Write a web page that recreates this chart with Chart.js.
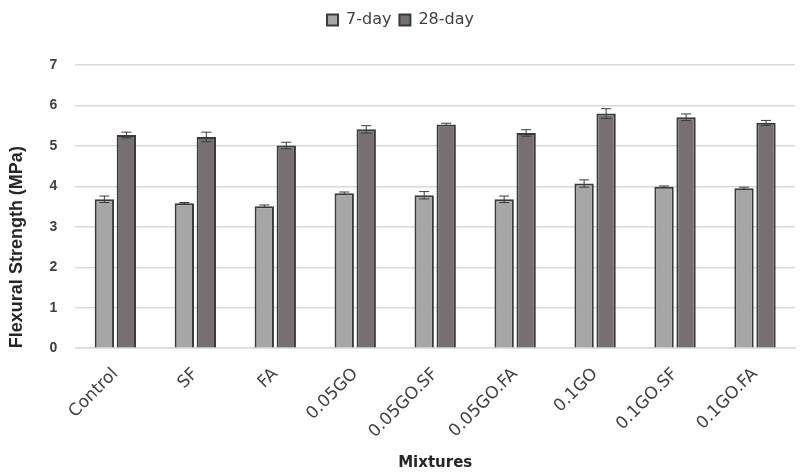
<!DOCTYPE html>
<html>
<head>
<meta charset="utf-8">
<script src="https://cdn.jsdelivr.net/npm/chart.js@4"></script>
<style>
  html, body { margin: 0; padding: 0; background: #fff; }
  #wrap { width: 802px; height: 472px; }
</style>
</head>
<body>
<div id="wrap"><canvas id="flex"></canvas></div>
<script>
// Datos
const mixtures = ['Control', 'SF', 'FA', '0.05GO', '0.05GO.SF', '0.05GO.FA', '0.1GO', '0.1GO.SF', '0.1GO.FA'];
const day7 = [3.68, 3.58, 3.51, 3.83, 3.78, 3.68, 4.07, 3.99, 3.95];
const day7Err = [0.08, 0.02, 0.03, 0.03, 0.09, 0.08, 0.09, 0.02, 0.03];
const day28 = [5.27, 5.22, 5.01, 5.41, 5.53, 5.32, 5.80, 5.71, 5.57];
const day28Err = [0.07, 0.12, 0.08, 0.09, 0.03, 0.08, 0.12, 0.08, 0.06];
const yTicks = [0, 1, 2, 3, 4, 5, 6, 7];

// Barras de error (se dibujan con las escalas del gráfico)
const errorBars = {
    id: 'errorBars',
    afterDatasetsDraw(chart) {
        const ctx = chart.ctx;
        const y = chart.scales.y;
        ctx.save();
        ctx.strokeStyle = '#3a3a3a';
        ctx.lineWidth = 1;
        chart.data.datasets.forEach((ds, i) => {
            const meta = chart.getDatasetMeta(i);
            meta.data.forEach((bar, j) => {
                const v = ds.data[j], e = ds.errors[j];
                const top = y.getPixelForValue(v + e);
                const bot = y.getPixelForValue(v - e);
                const x = bar.x;
                ctx.beginPath();
                ctx.moveTo(x, top); ctx.lineTo(x, bot);
                ctx.moveTo(x - 5, top); ctx.lineTo(x + 5, top);
                ctx.moveTo(x - 5, bot); ctx.lineTo(x + 5, bot);
                ctx.stroke();
            });
        });
        ctx.restore();
    }
};

// Espacio extra bajo la leyenda
const legendMargin = {
    id: 'legendMargin',
    beforeInit(chart) {
        const fit = chart.legend.fit;
        chart.legend.fit = function () {
            fit.bind(chart.legend)();
            this.height += 27;
        };
    }
};

Chart.defaults.font.family = '"Liberation Sans", Arial, sans-serif';
Chart.defaults.color = '#404040';

new Chart(document.getElementById('flex'), {
    type: 'bar',
    data: {
        labels: mixtures,
        datasets: [{
            label: '7-day',
            data: day7,
            errors: day7Err,
            backgroundColor: '#a6a6a6',
            borderColor: '#3a3a3a',
            borderWidth: 2,
            categoryPercentage: 0.55,
            barPercentage: 0.88
        }, {
            label: '28-day',
            data: day28,
            errors: day28Err,
            backgroundColor: '#767171',
            borderColor: '#3a3a3a',
            borderWidth: 2,
            categoryPercentage: 0.55,
            barPercentage: 0.88
        }]
    },
    options: {
        responsive: true,
        maintainAspectRatio: false,
        animation: false,
        layout: { padding: { left: 6, right: 7, top: 4, bottom: 0 } },
        plugins: {
            legend: {
                position: 'top',
                labels: {
                    boxWidth: 11,
                    boxHeight: 11,
                    padding: 8,
                    color: '#404040',
                    font: { family: '"DejaVu Sans", sans-serif', size: 16 }
                }
            },
            tooltip: { enabled: false }
        },
        scales: {
            x: {
                grid: { display: false },
                border: { color: '#d9d9d9', width: 1.5 },
                ticks: {
                    minRotation: 45,
                    maxRotation: 45,
                    padding: 8,
                    color: '#404040',
                    font: { family: '"DejaVu Sans", sans-serif', size: 17 }
                },
                title: {
                    display: true,
                    text: 'Mixtures',
                    color: '#262626',
                    padding: { top: 4, bottom: 0 },
                    font: { family: '"DejaVu Sans", sans-serif', size: 15, weight: 'bold' }
                }
            },
            y: {
                min: yTicks[0],
                max: yTicks[yTicks.length - 1],
                afterBuildTicks(axis) {
                    axis.ticks = yTicks.map(v => ({ value: v }));
                },
                grid: { color: '#d9d9d9', lineWidth: 1.5, drawTicks: false },
                border: { display: false },
                ticks: {
                    padding: 18,
                    color: '#404040',
                    font: { size: 14, weight: 'bold' }
                },
                title: {
                    display: true,
                    text: 'Flexural Strength (MPa)',
                    align: 'start',
                    color: '#262626',
                    padding: { top: 0, bottom: 4 },
                    font: { size: 18, weight: 'bold' }
                }
            }
        }
    },
    plugins: [errorBars, legendMargin]
});
</script>
</body>
</html>
